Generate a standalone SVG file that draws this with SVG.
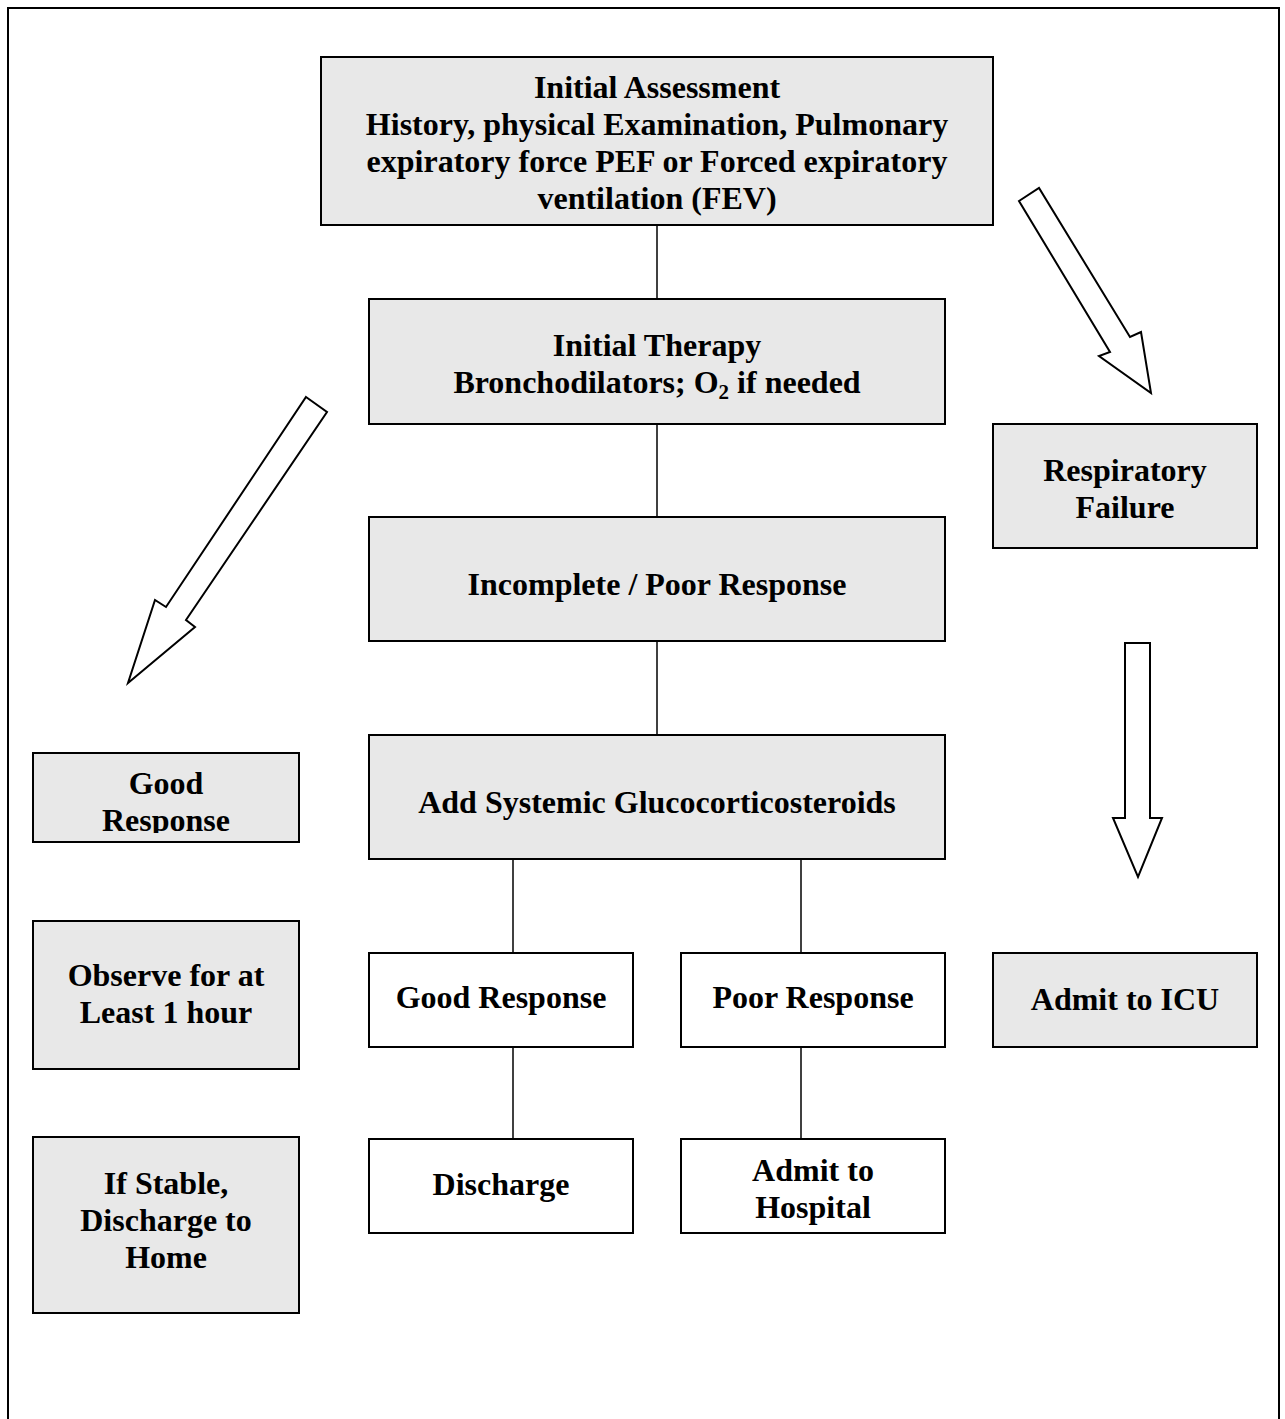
<svg xmlns="http://www.w3.org/2000/svg" width="1285" height="1419" viewBox="0 0 1285 1419">
  <style>
    .box { fill: #e8e8e8; stroke: #000; stroke-width: 2; }
    .wbox { fill: #fff; stroke: #000; stroke-width: 2; }
    .lbl { font-family: "Liberation Serif", "Times New Roman", serif; font-weight: bold; font-size: 32px; fill: #000; text-anchor: middle; }
    .link { stroke: #000; stroke-width: 1.5; fill: none; }
    .blk { fill: #fff; stroke: #000; stroke-width: 2; stroke-linejoin: miter; }
  </style>
  <defs>
    <clipPath id="clipGood">
      <rect x="33" y="753" width="266" height="80"/>
    </clipPath>
  </defs>

  <rect width="1285" height="1419" fill="#fff"/>
  <!-- page frame -->
  <path d="M8 1419 V8 H1279 V1419" fill="none" stroke="#000" stroke-width="2"/>

  <!-- connectors -->
  <g id="connectors">
    <line class="link" x1="657" y1="225" x2="657" y2="299"/>
    <line class="link" x1="657" y1="424" x2="657" y2="517"/>
    <line class="link" x1="657" y1="641" x2="657" y2="735"/>
    <line class="link" x1="513" y1="859" x2="513" y2="953"/>
    <line class="link" x1="801" y1="859" x2="801" y2="953"/>
    <line class="link" x1="513" y1="1047" x2="513" y2="1139"/>
    <line class="link" x1="801" y1="1047" x2="801" y2="1139"/>
    <!-- block arrows -->
    <polygon class="blk" points="1019,201 1039,188 1130,337 1141,332 1151,393 1099,356 1110,352"/>
    <polygon class="blk" points="306,397 327,412 186,620 195,627 128,683 155,600 166,607"/>
    <polygon class="blk" points="1125,643 1150,643 1150,818 1162,818 1138,877 1113,818 1125,818"/>
  </g>

  <g id="initial-assessment">
    <rect class="box" x="321" y="57" width="672" height="168"/>
    <text class="lbl" x="657" y="98">Initial Assessment</text>
    <text class="lbl" x="657" y="135">History, physical Examination, Pulmonary</text>
    <text class="lbl" x="657" y="172">expiratory force PEF or Forced expiratory</text>
    <text class="lbl" x="657" y="209">ventilation (FEV)</text>
  </g>

  <g id="initial-therapy">
    <rect class="box" x="369" y="299" width="576" height="125"/>
    <text class="lbl" x="657" y="356">Initial Therapy</text>
    <text class="lbl" x="657" y="393">Bronchodilators; O<tspan font-size="21" dy="6">2</tspan><tspan dy="-6"> if needed</tspan></text>
  </g>

  <g id="incomplete-response">
    <rect class="box" x="369" y="517" width="576" height="124"/>
    <text class="lbl" x="657" y="595">Incomplete / Poor Response</text>
  </g>

  <g id="add-steroids">
    <rect class="box" x="369" y="735" width="576" height="124"/>
    <text class="lbl" x="657" y="813">Add Systemic Glucocorticosteroids</text>
  </g>

  <g id="good-response">
    <rect class="wbox" x="369" y="953" width="264" height="94"/>
    <text class="lbl" x="501" y="1008">Good Response</text>
  </g>

  <g id="poor-response">
    <rect class="wbox" x="681" y="953" width="264" height="94"/>
    <text class="lbl" x="813" y="1008">Poor Response</text>
  </g>

  <g id="discharge">
    <rect class="wbox" x="369" y="1139" width="264" height="94"/>
    <text class="lbl" x="501" y="1195">Discharge</text>
  </g>

  <g id="admit-hospital">
    <rect class="wbox" x="681" y="1139" width="264" height="94"/>
    <text class="lbl" x="813" y="1181">Admit to</text>
    <text class="lbl" x="813" y="1218">Hospital</text>
  </g>

  <g id="respiratory-failure">
    <rect class="box" x="993" y="424" width="264" height="124"/>
    <text class="lbl" x="1125" y="481">Respiratory</text>
    <text class="lbl" x="1125" y="518">Failure</text>
  </g>

  <g id="admit-icu">
    <rect class="box" x="993" y="953" width="264" height="94"/>
    <text class="lbl" x="1125" y="1010">Admit to ICU</text>
  </g>

  <g id="good-response-side">
    <rect class="box" x="33" y="753" width="266" height="89"/>
    <g clip-path="url(#clipGood)">
      <text class="lbl" x="166" y="794">Good</text>
      <text class="lbl" x="166" y="831">Response</text>
    </g>
  </g>

  <g id="observe">
    <rect class="box" x="33" y="921" width="266" height="148"/>
    <text class="lbl" x="166" y="986">Observe for at</text>
    <text class="lbl" x="166" y="1023">Least 1 hour</text>
  </g>

  <g id="discharge-home">
    <rect class="box" x="33" y="1137" width="266" height="176"/>
    <text class="lbl" x="166" y="1194">If Stable,</text>
    <text class="lbl" x="166" y="1231">Discharge to</text>
    <text class="lbl" x="166" y="1268">Home</text>
  </g>
</svg>
